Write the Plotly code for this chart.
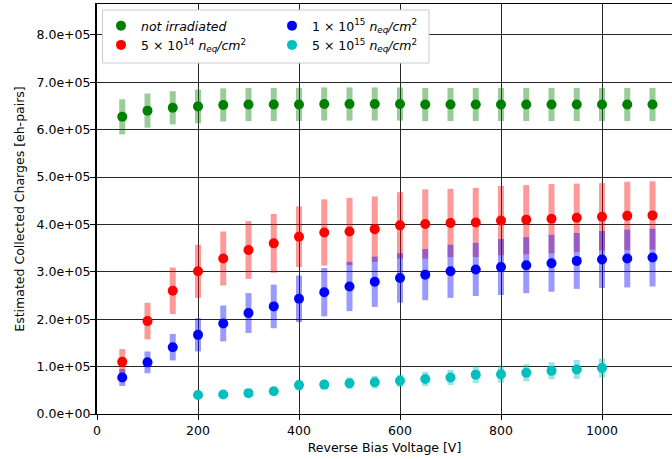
import plotly.graph_objects as go

# ---------------- data ----------------
voltage = [50, 100, 150, 200, 250, 300, 350, 400, 450, 500, 550,
           600, 650, 700, 750, 800, 850, 900, 950, 1000, 1050, 1100]
voltage_c = [200, 250, 300, 350, 400, 450, 500, 550, 600, 650,
             700, 750, 800, 850, 900, 950, 1000]

q_none = [6.27e5, 6.40e5, 6.46e5, 6.49e5, 6.52e5, 6.53e5, 6.53e5, 6.53e5, 6.54e5, 6.54e5, 6.54e5,
          6.54e5, 6.53e5, 6.53e5, 6.53e5, 6.53e5, 6.53e5, 6.53e5, 6.53e5, 6.53e5, 6.53e5, 6.53e5]
e_none = [0.37e5, 0.36e5, 0.35e5, 0.355e5, 0.35e5, 0.35e5, 0.35e5, 0.35e5, 0.35e5, 0.35e5, 0.35e5,
          0.35e5, 0.35e5, 0.35e5, 0.35e5, 0.35e5, 0.35e5, 0.35e5, 0.35e5, 0.35e5, 0.35e5, 0.35e5]

q_5e14 = [1.10e5, 1.96e5, 2.60e5, 3.01e5, 3.28e5, 3.46e5, 3.60e5, 3.74e5, 3.83e5, 3.85e5, 3.90e5,
          3.98e5, 4.01e5, 4.03e5, 4.04e5, 4.08e5, 4.10e5, 4.12e5, 4.14e5, 4.16e5, 4.18e5, 4.19e5]
e_5e14 = [0.27e5, 0.385e5, 0.49e5, 0.56e5, 0.57e5, 0.61e5, 0.62e5, 0.64e5, 0.70e5, 0.71e5, 0.69e5,
          0.70e5, 0.73e5, 0.72e5, 0.73e5, 0.73e5, 0.73e5, 0.73e5, 0.72e5, 0.71e5, 0.72e5, 0.72e5]

q_1e15 = [0.77e5, 1.09e5, 1.41e5, 1.67e5, 1.91e5, 2.13e5, 2.27e5, 2.43e5, 2.57e5, 2.69e5, 2.79e5,
          2.87e5, 2.94e5, 3.01e5, 3.05e5, 3.10e5, 3.14e5, 3.18e5, 3.23e5, 3.26e5, 3.28e5, 3.30e5]
e_1e15 = [0.18e5, 0.23e5, 0.28e5, 0.35e5, 0.38e5, 0.42e5, 0.46e5, 0.49e5, 0.51e5, 0.52e5, 0.53e5,
          0.52e5, 0.54e5, 0.56e5, 0.56e5, 0.59e5, 0.59e5, 0.60e5, 0.59e5, 0.60e5, 0.61e5, 0.61e5]

q_5e15 = [0.40e5, 0.41e5, 0.44e5, 0.48e5, 0.61e5, 0.62e5, 0.65e5, 0.67e5, 0.70e5,
          0.74e5, 0.77e5, 0.83e5, 0.84e5, 0.87e5, 0.91e5, 0.94e5, 0.97e5]
e_5e15 = [0.01e5, 0.01e5, 0.02e5, 0.03e5, 0.11e5, 0.10e5, 0.12e5, 0.13e5, 0.13e5,
          0.15e5, 0.16e5, 0.18e5, 0.18e5, 0.18e5, 0.18e5, 0.20e5, 0.20e5]

x_ticks = [0, 200, 400, 600, 800, 1000]
y_ticks = [0, 1e5, 2e5, 3e5, 4e5, 5e5, 6e5, 7e5, 8e5]
y_ticktext = ["0.0e+00", "1.0e+05", "2.0e+05", "3.0e+05", "4.0e+05",
              "5.0e+05", "6.0e+05", "7.0e+05", "8.0e+05"]

names = [
    "<i>not irradiated</i>",
    "5 × 10<sup>14</sup> <i>n</i><sub><i>eq</i></sub><i>/cm</i><sup>2</sup>",
    "1 × 10<sup>15</sup> <i>n</i><sub><i>eq</i></sub><i>/cm</i><sup>2</sup>",
    "5 × 10<sup>15</sup> <i>n</i><sub><i>eq</i></sub><i>/cm</i><sup>2</sup>",
]

# ---------------- figure ----------------
FONT = "DejaVu Sans"
FS = 12.5

series = [
    (voltage, q_none, e_none, "#008000", "rgba(0,128,0,0.4)", names[0], "legend"),
    (voltage, q_5e14, e_5e14, "#ff0000", "rgba(255,0,0,0.4)", names[1], "legend"),
    (voltage, q_1e15, e_1e15, "#0000ff", "rgba(0,0,255,0.4)", names[2], "legend2"),
    (voltage_c, q_5e15, e_5e15, "#00bfbf", "rgba(0,191,191,0.4)", names[3], "legend2"),
]

fig = go.Figure()
for x, y, e, c, ec, nm, lg in series:
    fig.add_trace(go.Scatter(
        x=x, y=y, mode="markers", name=nm, legend=lg,
        marker=dict(color=c, size=10, line=dict(width=0)),
        error_y=dict(type="data", array=e, visible=True,
                     color=ec, thickness=6, width=0),
    ))

W, H = 672, 459
ML, MR, MT, MB = 97, 0, 4, 45
pw = W - ML - MR
ph = H - MT - MB

def px_x(p):
    return (p - ML) / pw

def px_y(p):
    return (H - MB - p) / ph

fig.add_shape(type="rect", xref="paper", yref="paper",
              x0=px_x(102.5), x1=px_x(429), y0=px_y(63), y1=px_y(10),
              line=dict(color="#cccccc", width=1), fillcolor="white", layer="above")

axis_common = dict(
    showgrid=True, gridcolor="rgba(0,0,0,0.85)", gridwidth=1,
    showline=True, linecolor="black",
    ticks="outside", ticklen=5, tickwidth=1, tickcolor="black",
    zeroline=False, automargin=False,
    tickfont=dict(family=FONT, size=FS, color="black"),
)

fig.update_layout(
    width=W, height=H,
    margin=dict(l=ML, r=MR, t=MT, b=MB),
    paper_bgcolor="white", plot_bgcolor="white",
    font=dict(family=FONT, size=FS, color="black"),
    xaxis=dict(range=[0, 1138.6], tickvals=x_ticks, linewidth=1, mirror=True,
               title=dict(text="Reverse Bias Voltage [V]", standoff=6,
                          font=dict(family=FONT, size=FS, color="black")),
               **axis_common),
    yaxis=dict(range=[0, 8.65e5], tickvals=y_ticks, ticktext=y_ticktext, linewidth=2,
               ticklabelstandoff=-3,
               title=dict(text="Estimated Collected Charges [eh-pairs]", standoff=9,
                          font=dict(family=FONT, size=FS, color="black")),
               **axis_common),
    legend=dict(x=px_x(101), y=px_y(11), xanchor="left", yanchor="top",
                bgcolor="rgba(0,0,0,0)", borderwidth=0,
                font=dict(family=FONT, size=FS, color="black"), tracegroupgap=0),
    legend2=dict(x=px_x(272), y=px_y(11), xanchor="left", yanchor="top",
                 bgcolor="rgba(0,0,0,0)", borderwidth=0,
                 font=dict(family=FONT, size=FS, color="black"), tracegroupgap=0),
    showlegend=True,
)

fig.write_html("out.html", config={"displayModeBar": False},
               post_script="document.body.style.margin='0';")
